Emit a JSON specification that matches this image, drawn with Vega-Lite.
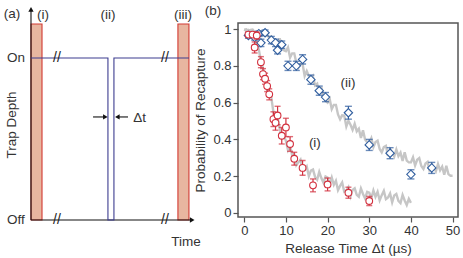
{
  "$schema": "https://vega.github.io/schema/vega-lite/v6.json",
  "width": 220,
  "height": 194,
  "autosize": {"type": "none"},
  "padding": {"left": 238, "top": 23, "right": 5, "bottom": 41},
  "background": "white",
  "config": {
    "font": "Liberation Sans",
    "view": {"stroke": "#555555", "strokeWidth": 1.5},
    "axis": {"labelFont": "Liberation Sans", "titleFont": "Liberation Sans", "labelFontSize": 13, "titleFontSize": 13.5, "titleFontWeight": "normal", "labelColor": "#333333", "titleColor": "#333333", "tickColor": "#555555", "tickWidth": 1.2, "domain": false, "grid": false},
    "axisY": {"labelOverlap": false},
    "axisLeft": {"labelOverlap": false},
    "text": {"font": "Liberation Sans", "color": "#333333"}
  },
  "datasets": {
    "sim": [
      {"s":"i","t":0,"p":0.998},{"s":"i","t":0.5,"p":0.99},{"s":"i","t":1,"p":0.995},{"s":"i","t":1.5,"p":0.977},{"s":"i","t":2,"p":0.976},{"s":"i","t":2.5,"p":0.942},{"s":"i","t":3,"p":0.922},{"s":"i","t":3.5,"p":0.889},{"s":"i","t":4,"p":0.825},{"s":"i","t":4.5,"p":0.785},{"s":"i","t":5,"p":0.758},{"s":"i","t":5.5,"p":0.667},{"s":"i","t":6,"p":0.66},{"s":"i","t":6.5,"p":0.627},{"s":"i","t":7,"p":0.548},{"s":"i","t":7.5,"p":0.505},{"s":"i","t":8,"p":0.518},{"s":"i","t":8.5,"p":0.46},{"s":"i","t":9,"p":0.408},{"s":"i","t":9.5,"p":0.42},{"s":"i","t":10,"p":0.392},{"s":"i","t":10.5,"p":0.342},{"s":"i","t":11,"p":0.365},{"s":"i","t":11.5,"p":0.312},{"s":"i","t":12,"p":0.32},{"s":"i","t":12.5,"p":0.26},{"s":"i","t":13,"p":0.275},{"s":"i","t":13.5,"p":0.29},{"s":"i","t":14,"p":0.235},{"s":"i","t":14.5,"p":0.237},{"s":"i","t":15,"p":0.253},{"s":"i","t":15.5,"p":0.2},{"s":"i","t":16,"p":0.23},{"s":"i","t":16.5,"p":0.236},{"s":"i","t":17,"p":0.196},{"s":"i","t":17.5,"p":0.181},{"s":"i","t":18,"p":0.223},{"s":"i","t":18.5,"p":0.19},{"s":"i","t":19,"p":0.165},{"s":"i","t":19.5,"p":0.198},{"s":"i","t":20,"p":0.192},{"s":"i","t":20.5,"p":0.156},{"s":"i","t":21,"p":0.193},{"s":"i","t":21.5,"p":0.153},{"s":"i","t":22,"p":0.175},{"s":"i","t":22.5,"p":0.124},{"s":"i","t":23,"p":0.147},{"s":"i","t":23.5,"p":0.166},{"s":"i","t":24,"p":0.115},{"s":"i","t":24.5,"p":0.121},{"s":"i","t":25,"p":0.14},{"s":"i","t":25.5,"p":0.091},{"s":"i","t":26,"p":0.125},{"s":"i","t":26.5,"p":0.134},{"s":"i","t":27,"p":0.098},{"s":"i","t":27.5,"p":0.088},{"s":"i","t":28,"p":0.133},{"s":"i","t":28.5,"p":0.103},{"s":"i","t":29,"p":0.079},{"s":"i","t":29.5,"p":0.115},{"s":"i","t":30,"p":0.11},{"s":"i","t":30.5,"p":0.079},{"s":"i","t":31,"p":0.122},{"s":"i","t":31.5,"p":0.088},{"s":"i","t":32,"p":0.115},{"s":"i","t":32.5,"p":0.069},{"s":"i","t":33,"p":0.097},{"s":"i","t":33.5,"p":0.121},{"s":"i","t":34,"p":0.075},{"s":"i","t":34.5,"p":0.084},{"s":"i","t":35,"p":0.106},{"s":"i","t":35.5,"p":0.058},{"s":"i","t":36,"p":0.095},{"s":"i","t":36.5,"p":0.103},{"s":"i","t":37,"p":0.066},{"s":"i","t":37.5,"p":0.054},{"s":"i","t":38,"p":0.098},{"s":"i","t":38.5,"p":0.068},{"s":"i","t":39,"p":0.043},{"s":"i","t":39.5,"p":0.077},{"s":"i","t":40,"p":0.055},
      {"s":"ii","t":0,"p":0.997},{"s":"ii","t":0.5,"p":0.999},{"s":"ii","t":1,"p":0.99},{"s":"ii","t":1.5,"p":0.996},{"s":"ii","t":2,"p":0.997},{"s":"ii","t":2.5,"p":0.984},{"s":"ii","t":3,"p":0.978},{"s":"ii","t":3.5,"p":0.985},{"s":"ii","t":4,"p":0.986},{"s":"ii","t":4.5,"p":0.966},{"s":"ii","t":5,"p":0.975},{"s":"ii","t":5.5,"p":0.965},{"s":"ii","t":6,"p":0.955},{"s":"ii","t":6.5,"p":0.96},{"s":"ii","t":7,"p":0.94},{"s":"ii","t":7.5,"p":0.943},{"s":"ii","t":8,"p":0.908},{"s":"ii","t":8.5,"p":0.95},{"s":"ii","t":9,"p":0.9},{"s":"ii","t":9.5,"p":0.885},{"s":"ii","t":10,"p":0.88},{"s":"ii","t":10.5,"p":0.9},{"s":"ii","t":11,"p":0.845},{"s":"ii","t":11.5,"p":0.868},{"s":"ii","t":12,"p":0.868},{"s":"ii","t":12.5,"p":0.816},{"s":"ii","t":13,"p":0.79},{"s":"ii","t":13.5,"p":0.81},{"s":"ii","t":14,"p":0.81},{"s":"ii","t":14.5,"p":0.745},{"s":"ii","t":15,"p":0.772},{"s":"ii","t":15.5,"p":0.745},{"s":"ii","t":16,"p":0.712},{"s":"ii","t":16.5,"p":0.74},{"s":"ii","t":17,"p":0.694},{"s":"ii","t":17.5,"p":0.703},{"s":"ii","t":18,"p":0.648},{"s":"ii","t":18.5,"p":0.685},{"s":"ii","t":19,"p":0.63},{"s":"ii","t":19.5,"p":0.61},{"s":"ii","t":20,"p":0.6},{"s":"ii","t":20.5,"p":0.62},{"s":"ii","t":21,"p":0.565},{"s":"ii","t":21.5,"p":0.588},{"s":"ii","t":22,"p":0.588},{"s":"ii","t":22.5,"p":0.536},{"s":"ii","t":23,"p":0.51},{"s":"ii","t":23.5,"p":0.531},{"s":"ii","t":24,"p":0.53},{"s":"ii","t":24.5,"p":0.47},{"s":"ii","t":25,"p":0.502},{"s":"ii","t":25.5,"p":0.48},{"s":"ii","t":26,"p":0.452},{"s":"ii","t":26.5,"p":0.485},{"s":"ii","t":27,"p":0.444},{"s":"ii","t":27.5,"p":0.458},{"s":"ii","t":28,"p":0.408},{"s":"ii","t":28.5,"p":0.45},{"s":"ii","t":29,"p":0.4},{"s":"ii","t":29.5,"p":0.385},{"s":"ii","t":30,"p":0.38},{"s":"ii","t":30.5,"p":0.406},{"s":"ii","t":31,"p":0.358},{"s":"ii","t":31.5,"p":0.386},{"s":"ii","t":32,"p":0.393},{"s":"ii","t":32.5,"p":0.348},{"s":"ii","t":33,"p":0.33},{"s":"ii","t":33.5,"p":0.358},{"s":"ii","t":34,"p":0.365},{"s":"ii","t":34.5,"p":0.31},{"s":"ii","t":35,"p":0.347},{"s":"ii","t":35.5,"p":0.33},{"s":"ii","t":36,"p":0.307},{"s":"ii","t":36.5,"p":0.345},{"s":"ii","t":37,"p":0.309},{"s":"ii","t":37.5,"p":0.328},{"s":"ii","t":38,"p":0.283},{"s":"ii","t":38.5,"p":0.33},{"s":"ii","t":39,"p":0.285},{"s":"ii","t":39.5,"p":0.275},{"s":"ii","t":40,"p":0.275},{"s":"ii","t":40.5,"p":0.303},{"s":"ii","t":41,"p":0.258},{"s":"ii","t":41.5,"p":0.289},{"s":"ii","t":42,"p":0.298},{"s":"ii","t":42.5,"p":0.255},{"s":"ii","t":43,"p":0.239},{"s":"ii","t":43.5,"p":0.269},{"s":"ii","t":44,"p":0.278},{"s":"ii","t":44.5,"p":0.225},{"s":"ii","t":45,"p":0.264},{"s":"ii","t":45.5,"p":0.248},{"s":"ii","t":46,"p":0.227},{"s":"ii","t":46.5,"p":0.266},{"s":"ii","t":47,"p":0.232},{"s":"ii","t":47.5,"p":0.252},{"s":"ii","t":48,"p":0.208},{"s":"ii","t":48.5,"p":0.256},{"s":"ii","t":49,"p":0.211},{"s":"ii","t":49.5,"p":0.202},{"s":"ii","t":50,"p":0.202}
    ],
    "red": [
      {"t":1,"p":0.97,"lo":0.955,"hi":0.985},{"t":2,"p":0.97,"lo":0.955,"hi":0.985},{"t":3,"p":0.965,"lo":0.945,"hi":0.985},{"t":2.5,"p":0.9,"lo":0.87,"hi":0.93},{"t":4,"p":0.82,"lo":0.79,"hi":0.85},{"t":4.5,"p":0.755,"lo":0.725,"hi":0.785},{"t":5,"p":0.73,"lo":0.7,"hi":0.76},{"t":5.5,"p":0.69,"lo":0.66,"hi":0.72},{"t":6,"p":0.645,"lo":0.615,"hi":0.675},{"t":7,"p":0.51,"lo":0.47,"hi":0.55},{"t":7.5,"p":0.49,"lo":0.45,"hi":0.53},{"t":8,"p":0.53,"lo":0.48,"hi":0.58},{"t":9,"p":0.42,"lo":0.375,"hi":0.465},{"t":10,"p":0.465,"lo":0.415,"hi":0.515},{"t":11,"p":0.375,"lo":0.335,"hi":0.415},{"t":12,"p":0.295,"lo":0.26,"hi":0.33},{"t":14,"p":0.245,"lo":0.205,"hi":0.285},{"t":16.5,"p":0.15,"lo":0.115,"hi":0.185},{"t":20,"p":0.155,"lo":0.12,"hi":0.19},{"t":25,"p":0.11,"lo":0.08,"hi":0.14},{"t":30,"p":0.065,"lo":0.04,"hi":0.09}
    ],
    "blue": [
      {"t":1,"p":0.965,"lo":0.95,"hi":0.98},{"t":2.5,"p":0.955,"lo":0.94,"hi":0.97},{"t":3.5,"p":0.975,"lo":0.96,"hi":0.99},{"t":4,"p":0.925,"lo":0.905,"hi":0.945},{"t":5,"p":0.98,"lo":0.965,"hi":0.995},{"t":6.5,"p":0.94,"lo":0.92,"hi":0.96},{"t":7.5,"p":0.925,"lo":0.905,"hi":0.945},{"t":8,"p":0.885,"lo":0.865,"hi":0.905},{"t":9,"p":0.915,"lo":0.895,"hi":0.935},{"t":10.5,"p":0.8,"lo":0.775,"hi":0.825},{"t":12.5,"p":0.8,"lo":0.775,"hi":0.825},{"t":14,"p":0.835,"lo":0.81,"hi":0.86},{"t":16,"p":0.725,"lo":0.7,"hi":0.75},{"t":18,"p":0.665,"lo":0.64,"hi":0.69},{"t":19.5,"p":0.63,"lo":0.605,"hi":0.655},{"t":25,"p":0.545,"lo":0.51,"hi":0.58},{"t":30,"p":0.37,"lo":0.34,"hi":0.4},{"t":35,"p":0.325,"lo":0.295,"hi":0.355},{"t":40,"p":0.21,"lo":0.185,"hi":0.235},{"t":45,"p":0.245,"lo":0.215,"hi":0.275}
    ],
    "blabels": [
      {"t":-7.5,"p":1.098,"txt":"(b)"},{"t":24.9,"p":0.707,"txt":"(ii)"},{"t":16.95,"p":0.38,"txt":"(i)"}
    ],
    "bars": [
      {"x0":0,"x1":6.8,"y0":0,"y1":1.21},{"x0":90.7,"x1":97.5,"y0":0,"y1":1.21}
    ],
    "pulse": [
      {"o":1,"ax":0,"ay":1},{"o":2,"ax":47.5,"ay":1},{"o":3,"ax":47.5,"ay":0},{"o":4,"ax":51.2,"ay":0},{"o":5,"ax":51.2,"ay":1},{"o":6,"ax":97.5,"ay":1}
    ],
    "axlines": [
      {"x0":0,"x1":0,"y0":0,"y1":1.29},{"x0":0,"x1":98.8,"y0":0,"y1":0},{"x0":38.3,"x1":45.7,"y0":0.636,"y1":0.636},{"x0":53.4,"x1":59.9,"y0":0.636,"y1":0.636}
    ],
    "alabels": [
      {"ax":-11.7,"ay":1.272,"txt":"(a)"},{"ax":7.4,"ay":1.268,"txt":"(i)"},{"ax":47.5,"ay":1.268,"txt":"(ii)"},{"ax":93.8,"ay":1.268,"txt":"(iii)"},{"ax":-9.3,"ay":1,"txt":"On"},{"ax":-9.3,"ay":0,"txt":"Off"},{"ax":95.7,"ay":-0.136,"txt":"Time"},{"ax":67,"ay":0.63,"txt":"Δt"}
    ],
    "breaks": [
      {"ax":16,"ay":1},{"ax":16,"ay":0},{"ax":82.7,"ay":1},{"ax":82.7,"ay":0}
    ]
  },
  "layer": [
    {
      "layer": [
        {
          "data": {"name": "sim"},
          "mark": {"type": "line", "color": "#c6c6c6", "strokeWidth": 2.4, "strokeJoin": "miter"},
          "encoding": {
            "x": {"field": "t", "type": "quantitative", "scale": {"domain": [-1.5, 51.3], "nice": false, "zero": false}, "axis": {"values": [0,10,20,30,40,50], "tickSize": 5, "labelPadding": 2, "title": "Release Time Δt (µs)", "titlePadding": 4}},
            "y": {"field": "p", "type": "quantitative", "scale": {"domain": [-0.022, 1.033], "nice": false, "zero": false}, "axis": {"tickCount": 6, "tickMinStep": 0.2, "format": "~g", "labelOverlap": false, "labelSeparation": 0, "tickSize": 5, "labelPadding": 2, "title": "Probability of Recapture", "titlePadding": 5}},
            "detail": {"field": "s", "type": "nominal"}
          }
        },
        {
          "data": {"name": "blue"},
          "mark": {"type": "rule", "color": "#2f5d9e", "strokeWidth": 1.2},
          "encoding": {"x": {"field": "t", "type": "quantitative"}, "y": {"field": "lo", "type": "quantitative"}, "y2": {"field": "hi"}}
        },
        {
          "data": {"name": "blue"},
          "mark": {"type": "tick", "orient": "horizontal", "color": "#2f5d9e", "size": 7, "thickness": 1.4},
          "encoding": {"x": {"field": "t", "type": "quantitative"}, "y": {"field": "lo", "type": "quantitative"}}
        },
        {
          "data": {"name": "blue"},
          "mark": {"type": "tick", "orient": "horizontal", "color": "#2f5d9e", "size": 7, "thickness": 1.4},
          "encoding": {"x": {"field": "t", "type": "quantitative"}, "y": {"field": "hi", "type": "quantitative"}}
        },
        {
          "data": {"name": "blue"},
          "mark": {"type": "point", "shape": "diamond", "filled": true, "fill": "white", "stroke": "#2f5d9e", "strokeWidth": 1.1, "size": 70, "opacity": 1},
          "encoding": {"x": {"field": "t", "type": "quantitative"}, "y": {"field": "p", "type": "quantitative"}}
        },
        {
          "data": {"name": "red"},
          "mark": {"type": "rule", "color": "#d2303e", "strokeWidth": 1.2},
          "encoding": {"x": {"field": "t", "type": "quantitative"}, "y": {"field": "lo", "type": "quantitative"}, "y2": {"field": "hi"}}
        },
        {
          "data": {"name": "red"},
          "mark": {"type": "tick", "orient": "horizontal", "color": "#d2303e", "size": 6, "thickness": 1.4},
          "encoding": {"x": {"field": "t", "type": "quantitative"}, "y": {"field": "lo", "type": "quantitative"}}
        },
        {
          "data": {"name": "red"},
          "mark": {"type": "tick", "orient": "horizontal", "color": "#d2303e", "size": 6, "thickness": 1.4},
          "encoding": {"x": {"field": "t", "type": "quantitative"}, "y": {"field": "hi", "type": "quantitative"}}
        },
        {
          "data": {"name": "red"},
          "mark": {"type": "point", "shape": "circle", "filled": true, "fill": "white", "stroke": "#d2303e", "strokeWidth": 1.1, "size": 45, "opacity": 1},
          "encoding": {"x": {"field": "t", "type": "quantitative"}, "y": {"field": "p", "type": "quantitative"}}
        },
        {
          "data": {"name": "blabels"},
          "mark": {"type": "text", "fontSize": 13.5, "align": "center", "baseline": "middle"},
          "encoding": {"x": {"field": "t", "type": "quantitative"}, "y": {"field": "p", "type": "quantitative"}, "text": {"field": "txt"}}
        }
      ]
    },
    {
      "layer": [
        {
          "data": {"name": "bars"},
          "mark": {"type": "rect", "fill": "#e8b6a0", "stroke": "#d23a32", "strokeWidth": 1.1},
          "encoding": {
            "x": {"field": "x0", "type": "quantitative", "scale": {"domain": [127.78, 263.58], "nice": false, "zero": false}, "axis": null},
            "x2": {"field": "x1"},
            "y": {"field": "y0", "type": "quantitative", "scale": {"domain": [0.0185, 1.216], "nice": false, "zero": false}, "axis": null},
            "y2": {"field": "y1"}
          }
        },
        {
          "data": {"name": "axlines"},
          "mark": {"type": "rule", "color": "#111111", "strokeWidth": 1.1},
          "encoding": {"x": {"field": "x0", "type": "quantitative", "axis": null}, "x2": {"field": "x1"}, "y": {"field": "y0", "type": "quantitative", "axis": null}, "y2": {"field": "y1"}}
        },
        {
          "data": {"name": "pulse"},
          "mark": {"type": "line", "color": "#3d3d90", "strokeWidth": 1.1},
          "encoding": {"x": {"field": "ax", "type": "quantitative", "axis": null}, "y": {"field": "ay", "type": "quantitative", "axis": null}, "order": {"field": "o", "type": "quantitative"}}
        },
        {
          "data": {"values": [{"ax": 0, "ay": 1.3}]},
          "mark": {"type": "point", "shape": "triangle-up", "filled": true, "color": "#111111", "size": 28, "opacity": 1},
          "encoding": {"x": {"field": "ax", "type": "quantitative", "axis": null}, "y": {"field": "ay", "type": "quantitative", "axis": null}}
        },
        {
          "data": {"values": [{"ax": 99.5, "ay": 0}, {"ax": 45.9, "ay": 0.636}]},
          "mark": {"type": "point", "shape": "triangle-right", "filled": true, "color": "#111111", "size": 28, "opacity": 1},
          "encoding": {"x": {"field": "ax", "type": "quantitative", "axis": null}, "y": {"field": "ay", "type": "quantitative", "axis": null}}
        },
        {
          "data": {"values": [{"ax": 53.3, "ay": 0.636}]},
          "mark": {"type": "point", "shape": "triangle-left", "filled": true, "color": "#111111", "size": 28, "opacity": 1},
          "encoding": {"x": {"field": "ax", "type": "quantitative", "axis": null}, "y": {"field": "ay", "type": "quantitative", "axis": null}}
        },
        {
          "data": {"name": "breaks"},
          "mark": {"type": "text", "text": "//", "fontSize": 14, "align": "center", "baseline": "middle", "color": "#222222"},
          "encoding": {"x": {"field": "ax", "type": "quantitative", "axis": null}, "y": {"field": "ay", "type": "quantitative", "axis": null}}
        },
        {
          "data": {"name": "alabels"},
          "mark": {"type": "text", "fontSize": 13.5, "align": "center", "baseline": "middle"},
          "encoding": {"x": {"field": "ax", "type": "quantitative", "axis": null}, "y": {"field": "ay", "type": "quantitative", "axis": null}, "text": {"field": "txt"}}
        },
        {
          "data": {"values": [{"ax": -11.7, "ay": 0.586, "txt": "Trap Depth"}]},
          "mark": {"type": "text", "fontSize": 13.5, "align": "center", "baseline": "middle", "angle": 270},
          "encoding": {"x": {"field": "ax", "type": "quantitative", "axis": null}, "y": {"field": "ay", "type": "quantitative", "axis": null}, "text": {"field": "txt"}}
        }
      ]
    }
  ],
  "resolve": {"scale": {"x": "independent", "y": "independent"}}
}
